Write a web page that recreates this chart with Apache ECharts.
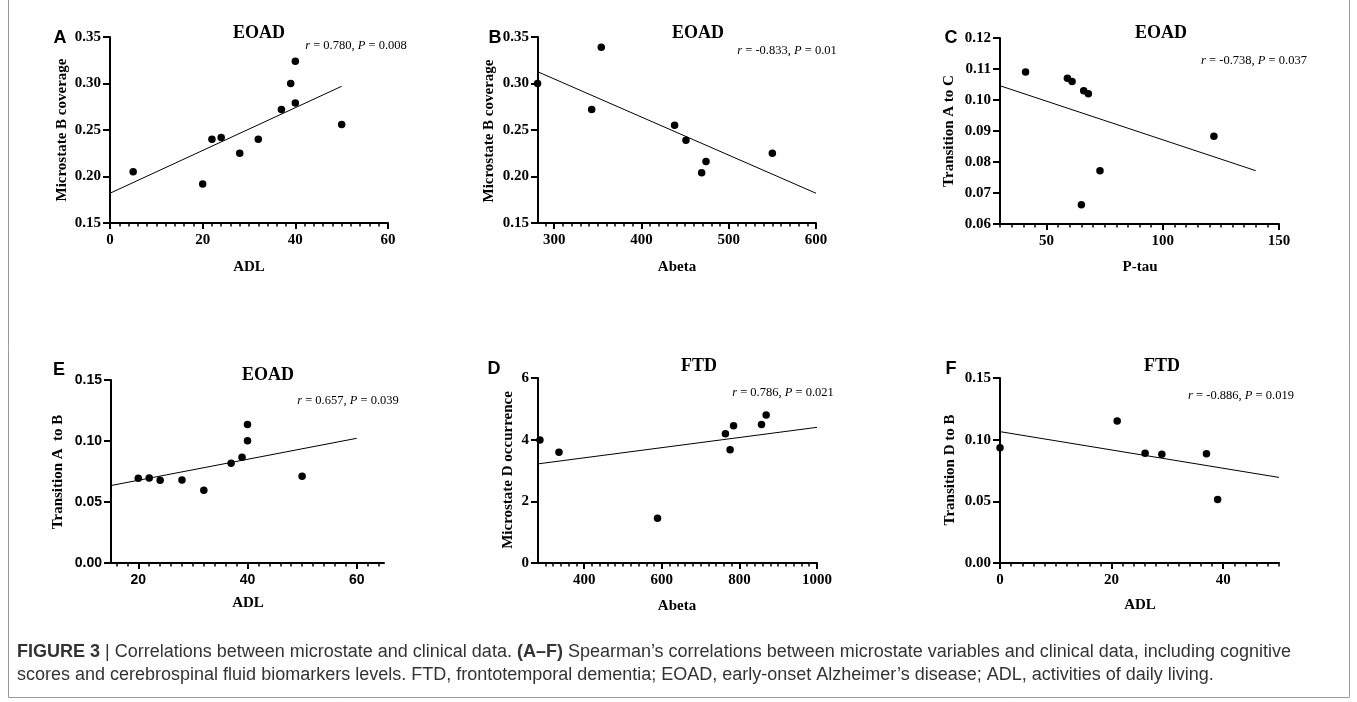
<!DOCTYPE html>
<html><head><meta charset="utf-8">
<script src="https://cdn.jsdelivr.net/npm/echarts@6/dist/echarts.min.js"></script>
<style>html,body{margin:0;padding:0;background:#fff;}#c{width:1357px;height:702px;}</style>
</head><body><div id="c"></div>
<script>
// ---------------- DATA ----------------
// Panel A (EOAD): ADL vs Microstate B coverage
const aADL = [5, 20, 22, 24, 28, 32, 37, 39, 40, 40, 50];
const aCoverageB = [0.205, 0.192, 0.240, 0.242, 0.225, 0.240, 0.272, 0.300, 0.324, 0.279, 0.256];
const aFit = [[0, 0.182], [50, 0.297]];
const aXTicks = [0, 20, 40, 60];
const aStat = ['0.780', '0.008'];

// Panel B (EOAD): Abeta vs Microstate B coverage
const bAbeta = [281, 343, 354, 438, 451, 469, 474, 550];
const bCoverageB = [0.300, 0.272, 0.339, 0.255, 0.239, 0.204, 0.216, 0.225];
const bFit = [[281.5, 0.3125], [600, 0.182]];
const bXTicks = [300, 400, 500, 600];
const bStat = ['-0.833', '0.01'];

// Panel C (EOAD): P-tau vs Transition A to C
const cPtau = [41, 59, 61, 66, 68, 65, 73, 122];
const cTransAC = [0.109, 0.107, 0.106, 0.103, 0.102, 0.0662, 0.0772, 0.0883];
const cFit = [[30, 0.1046], [140, 0.0772]];
const cXTicks = [50, 100, 150];
const cStat = ['-0.738', '0.037'];

// Panel E (EOAD): ADL vs Transition A to B
const eADL = [20, 22, 24, 28, 32, 37, 39, 40, 40, 50];
const eTransAB = [0.0695, 0.0697, 0.0678, 0.0680, 0.0597, 0.0817, 0.0866, 0.1003, 0.1135, 0.0711];
const eFit = [[15, 0.0635], [60, 0.1022]];
const eXTicks = [20, 40, 60];
const eStat = ['0.657', '0.039'];

// Panel D (FTD): Abeta vs Microstate D occurrence
const dAbeta = [286, 335, 589, 764, 776, 785, 857, 869];
const dOccurrenceD = [3.99, 3.59, 1.45, 4.19, 3.67, 4.45, 4.49, 4.80];
const dFit = [[281, 3.215], [1000, 4.40]];
const dXTicks = [400, 600, 800, 1000];
const dStat = ['0.786', '0.021'];

// Panel F (FTD): ADL vs Transition D to B
const fADL = [0, 21, 26, 29, 37, 39];
const fTransDB = [0.0935, 0.1152, 0.0889, 0.0881, 0.0886, 0.0515];
const fFit = [[0, 0.1065], [50, 0.0694]];
const fXTicks = [0, 20, 40];
const fStat = ['-0.886', '0.019'];

const captionLine1 = ['FIGURE 3', ' | Correlations between microstate and clinical data. ', '(A\u2013F)', ' Spearman\u2019s correlations between microstate variables and clinical data, including cognitive'];
const captionLine2 = 'scores and cerebrospinal fluid biomarkers levels. FTD, frontotemporal dementia; EOAD, early-onset Alzheimer\u2019s disease; ADL, activities of daily living.';

// ---------------- LAYOUT ----------------
const SERIF = '"Liberation Serif","Times New Roman",serif';
const SANS = '"Liberation Sans",Arial,sans-serif';

const panels = [
  {letter:'A', group:'EOAD', xName:'ADL', yName:'Microstate B coverage', x:aADL, y:aCoverageB, fit:aFit, stat:aStat,
   grid:{left:110, top:37, width:278, height:186}, xMin:0, xMax:60, xTicks:aXTicks, xMinor:2,
   yMin:0.15, yMax:0.35, yStep:0.05, yDec:2, font:SERIF, fs:15,
   pos:{letter:[60,38], title:[259,33], stat:[356,46], yName:[62,130], xName:[249,267]}},
  {letter:'B', group:'EOAD', xName:'Abeta', yName:'Microstate B coverage', x:bAbeta, y:bCoverageB, fit:bFit, stat:bStat,
   grid:{left:538, top:37, width:278, height:186}, xMin:281.5, xMax:600, xTicks:bXTicks, xMinor:10,
   yMin:0.15, yMax:0.35, yStep:0.05, yDec:2, font:SERIF, fs:15,
   pos:{letter:[495,38], title:[698,33], stat:[787,51], yName:[489,131], xName:[677,267]}},
  {letter:'C', group:'EOAD', xName:'P-tau', yName:'Transition A to C', x:cPtau, y:cTransAC, fit:cFit, stat:cStat,
   grid:{left:1000, top:38, width:279, height:186}, xMin:30, xMax:150, xTicks:cXTicks, xMinor:5,
   yMin:0.06, yMax:0.12, yStep:0.01, yDec:2, font:SERIF, fs:15,
   pos:{letter:[951,38], title:[1161,33], stat:[1254,61], yName:[949,131], xName:[1140,267]}},
  {letter:'E', group:'EOAD', xName:'ADL', yName:'Transition A  to B', x:eADL, y:eTransAB, fit:eFit, stat:eStat,
   grid:{left:111, top:380, width:273, height:183}, xMin:15, xMax:65, xTicks:eXTicks, xMinor:2,
   yMin:0, yMax:0.15, yStep:0.05, yDec:2, font:SANS, fs:14,
   pos:{letter:[59,370], title:[268,375], stat:[348,401], yName:[58,472], xName:[248,603]}},
  {letter:'D', group:'FTD', xName:'Abeta', yName:'Microstate D occurrence', x:dAbeta, y:dOccurrenceD, fit:dFit, stat:dStat,
   grid:{left:538, top:378, width:279, height:185}, xMin:281, xMax:1000, xTicks:dXTicks, xMinor:20,
   yMin:0, yMax:6, yStep:2, yDec:0, font:SERIF, fs:15,
   pos:{letter:[494,369], title:[699,366], stat:[783,393], yName:[508,470], xName:[677,606]}},
  {letter:'F', group:'FTD', xName:'ADL', yName:'Transition D to B', x:fADL, y:fTransDB, fit:fFit, stat:fStat,
   grid:{left:1000, top:378, width:279, height:185}, xMin:0, xMax:50, xTicks:fXTicks, xMinor:2,
   yMin:0, yMax:0.15, yStep:0.05, yDec:2, font:SERIF, fs:15,
   pos:{letter:[951,369], title:[1162,366], stat:[1241,396], yName:[950,470], xName:[1140,605]}}
];

function minorList(min, max, step) {
  const out = [];
  for (let k = Math.ceil(min / step - 1e-9); k * step <= max + 1e-9; k++) out.push(+(k * step).toFixed(6));
  return out;
}

const option = {animation:false, backgroundColor:'#fff', grid:[], xAxis:[], yAxis:[], series:[], graphic:[]};

panels.forEach((p, i) => {
  option.grid.push(Object.assign({containLabel:false}, p.grid));
  const labelStyle = {fontFamily:p.font, fontWeight:'bold', fontSize:p.fs, color:'#000'};
  // major x axis
  option.xAxis.push({gridIndex:i, type:'value', min:p.xMin, max:p.xMax, position:'bottom',
    axisLine:{show:true, onZero:false, lineStyle:{color:'#000', width:2}},
    axisTick:{show:true, length:6, lineStyle:{color:'#000', width:2}, customValues:p.xTicks},
    axisLabel:Object.assign({customValues:p.xTicks, margin:10, formatter:v => String(Math.round(v))}, labelStyle),
    splitLine:{show:false}});
  // minor x ticks
  option.xAxis.push({gridIndex:i, type:'value', min:p.xMin, max:p.xMax, position:'bottom',
    axisLine:{show:false}, axisLabel:{show:false},
    axisTick:{show:true, length:3.5, lineStyle:{color:'#000', width:1.5}, customValues:minorList(p.xMin, p.xMax, p.xMinor)},
    splitLine:{show:false}});
  option.yAxis.push({gridIndex:i, type:'value', min:p.yMin, max:p.yMax, interval:p.yStep,
    axisLine:{show:true, onZero:false, lineStyle:{color:'#000', width:2}},
    axisTick:{show:true, length:7, lineStyle:{color:'#000', width:2}},
    axisLabel:Object.assign({margin:9, formatter:v => Number(v).toFixed(p.yDec)}, labelStyle),
    splitLine:{show:false}});
  option.series.push({type:'scatter', xAxisIndex:2*i, yAxisIndex:i, symbolSize:7.5, clip:false,
    itemStyle:{color:'#000', opacity:1}, data:p.x.map((v, k) => [v, p.y[k]]), z:3});
  option.series.push({type:'line', xAxisIndex:2*i, yAxisIndex:i, showSymbol:false, symbol:'none',
    lineStyle:{color:'#000', width:1}, data:p.fit, z:2});

  const P = p.pos;
  option.graphic.push({type:'text', x:P.letter[0], y:P.letter[1], style:{text:p.letter, fontFamily:SANS, fontWeight:'bold', fontSize:18, fill:'#000', align:'center', verticalAlign:'middle'}});
  option.graphic.push({type:'text', x:P.title[0], y:P.title[1], style:{text:p.group, fontFamily:SERIF, fontWeight:'bold', fontSize:18, fill:'#000', align:'center', verticalAlign:'middle'}});
  option.graphic.push({type:'text', x:P.stat[0], y:P.stat[1], style:{
    text:'{i|r} = ' + p.stat[0] + ', {i|P} = ' + p.stat[1],
    fontFamily:SERIF, fontSize:12.5, fill:'#000', align:'center', verticalAlign:'middle',
    rich:{i:{fontFamily:SERIF, fontStyle:'italic', fontSize:12.5, fill:'#000'}}}});
  option.graphic.push({type:'text', x:P.yName[0], y:P.yName[1], rotation:Math.PI/2, style:{text:p.yName, fontFamily:SERIF, fontWeight:'bold', fontSize:15, fill:'#000', align:'center', verticalAlign:'middle'}});
  option.graphic.push({type:'text', x:P.xName[0], y:P.xName[1], style:{text:p.xName, fontFamily:SERIF, fontWeight:'bold', fontSize:15, fill:'#000', align:'center', verticalAlign:'middle'}});
});

// caption
option.graphic.push({type:'text', x:17, y:652, style:{
  text:'{b|' + captionLine1[0] + '}' + captionLine1[1] + '{b|' + captionLine1[2] + '}' + captionLine1[3],
  fontFamily:SANS, fontSize:18, fill:'#333', align:'left', verticalAlign:'middle',
  rich:{b:{fontFamily:SANS, fontWeight:'bold', fontSize:18, fill:'#333'}}}});
option.graphic.push({type:'text', x:17, y:675, style:{text:captionLine2, fontFamily:SANS, fontSize:18, fill:'#333', align:'left', verticalAlign:'middle'}});
// frame
option.graphic.push({type:'rect', shape:{x:8.5, y:-3, width:1341, height:700.5}, style:{fill:'none', stroke:'#9a9a9a', lineWidth:1}, z:-1});

const chart = echarts.init(document.getElementById('c'), null, {renderer:'canvas'});
chart.setOption(option);
</script></body></html>
